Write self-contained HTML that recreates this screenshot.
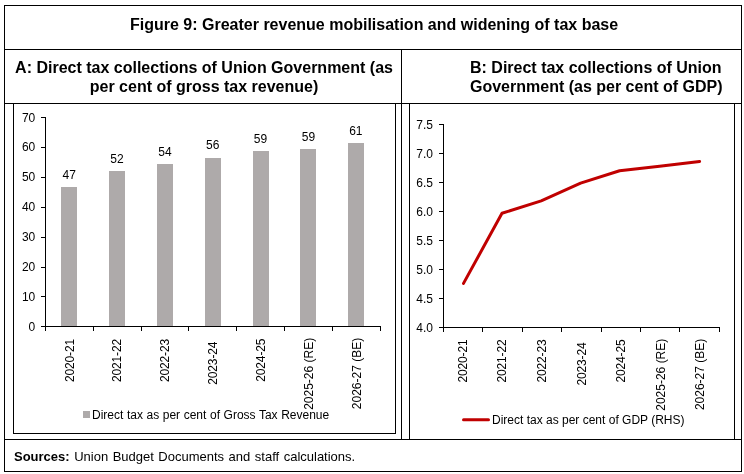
<!DOCTYPE html>
<html><head><meta charset="utf-8"><style>
html,body{margin:0;padding:0;background:#fff;width:744px;height:474px;overflow:hidden}
svg text{font-family:'Liberation Sans',sans-serif;fill:#000}
</style></head><body>
<svg width="744" height="474" viewBox="0 0 744 474" style="display:block;will-change:transform"><rect x="4" y="5" width="738" height="1" fill="#000"/>
<rect x="4" y="471" width="738" height="1" fill="#000"/>
<rect x="4" y="5" width="1" height="467" fill="#000"/>
<rect x="741" y="5" width="1" height="467" fill="#000"/>
<rect x="4" y="49" width="738" height="1" fill="#000"/>
<rect x="4" y="103" width="738" height="1" fill="#000"/>
<rect x="4" y="439" width="738" height="1" fill="#000"/>
<rect x="401" y="49" width="1" height="391" fill="#000"/>
<rect x="13" y="103" width="1" height="331" fill="#000"/>
<rect x="395" y="103" width="1" height="331" fill="#000"/>
<rect x="13" y="433" width="383" height="1" fill="#000"/>
<rect x="409" y="103" width="1" height="337" fill="#000"/>
<rect x="734" y="103" width="1" height="337" fill="#000"/>
<text x="130" y="30" font-size="16" font-weight="bold" text-anchor="start" >Figure 9: Greater revenue mobilisation and widening of tax base</text>
<text x="204" y="73" font-size="16" font-weight="bold" text-anchor="middle" >A: Direct tax collections of Union Government (as</text>
<text x="204" y="92" font-size="16" font-weight="bold" text-anchor="middle" >per cent of gross tax revenue)</text>
<text x="470" y="73" font-size="16" font-weight="bold" text-anchor="start" >B: Direct tax collections of Union</text>
<text x="470" y="92" font-size="16" font-weight="bold" text-anchor="start" >Government (as per cent of GDP)</text>
<text x="14" y="461" font-size="13" word-spacing="0.9"><tspan font-weight="bold">Sources:</tspan> Union Budget Documents and staff calculations.</text>
<rect x="45" y="117" width="1" height="210" fill="#000"/>
<rect x="41" y="117" width="4" height="1" fill="#000"/>
<text x="35.3" y="122" font-size="12" font-weight="normal" text-anchor="end" >70</text>
<rect x="41" y="147" width="4" height="1" fill="#000"/>
<text x="35.3" y="151" font-size="12" font-weight="normal" text-anchor="end" >60</text>
<rect x="41" y="177" width="4" height="1" fill="#000"/>
<text x="35.3" y="181" font-size="12" font-weight="normal" text-anchor="end" >50</text>
<rect x="41" y="207" width="4" height="1" fill="#000"/>
<text x="35.3" y="211" font-size="12" font-weight="normal" text-anchor="end" >40</text>
<rect x="41" y="237" width="4" height="1" fill="#000"/>
<text x="35.3" y="241" font-size="12" font-weight="normal" text-anchor="end" >30</text>
<rect x="41" y="267" width="4" height="1" fill="#000"/>
<text x="35.3" y="271" font-size="12" font-weight="normal" text-anchor="end" >20</text>
<rect x="41" y="296" width="4" height="1" fill="#000"/>
<text x="35.3" y="301" font-size="12" font-weight="normal" text-anchor="end" >10</text>
<rect x="41" y="326" width="4" height="1" fill="#000"/>
<text x="35.3" y="331" font-size="12" font-weight="normal" text-anchor="end" >0</text>
<rect x="45" y="326" width="336" height="1" fill="#000"/>
<rect x="45" y="326" width="1" height="5" fill="#000"/>
<rect x="93" y="326" width="1" height="5" fill="#000"/>
<rect x="141" y="326" width="1" height="5" fill="#000"/>
<rect x="188" y="326" width="1" height="5" fill="#000"/>
<rect x="236" y="326" width="1" height="5" fill="#000"/>
<rect x="284" y="326" width="1" height="5" fill="#000"/>
<rect x="332" y="326" width="1" height="5" fill="#000"/>
<rect x="380" y="326" width="1" height="5" fill="#000"/>
<rect x="61" y="187" width="16" height="139" fill="#AEAAAA"/>
<text x="69.25" y="179" font-size="12" font-weight="normal" text-anchor="middle" >47</text>
<text x="0" y="0" font-size="12" text-anchor="end" letter-spacing="-0.15" transform="translate(73.5,339) rotate(-90)">2020-21</text>
<rect x="109" y="171" width="16" height="155" fill="#AEAAAA"/>
<text x="117.0" y="163" font-size="12" font-weight="normal" text-anchor="middle" >52</text>
<text x="0" y="0" font-size="12" text-anchor="end" letter-spacing="-0.15" transform="translate(121.3,339) rotate(-90)">2021-22</text>
<rect x="157" y="164" width="16" height="162" fill="#AEAAAA"/>
<text x="165.0" y="156" font-size="12" font-weight="normal" text-anchor="middle" >54</text>
<text x="0" y="0" font-size="12" text-anchor="end" letter-spacing="-0.15" transform="translate(169.0,339) rotate(-90)">2022-23</text>
<rect x="205" y="158" width="16" height="168" fill="#AEAAAA"/>
<text x="212.75" y="149" font-size="12" font-weight="normal" text-anchor="middle" >56</text>
<text x="0" y="0" font-size="12" text-anchor="end" letter-spacing="-0.15" transform="translate(216.7,341.7) rotate(-90)">2023-24</text>
<rect x="253" y="151" width="16" height="175" fill="#AEAAAA"/>
<text x="260.5" y="143" font-size="12" font-weight="normal" text-anchor="middle" >59</text>
<text x="0" y="0" font-size="12" text-anchor="end" letter-spacing="-0.15" transform="translate(264.6,338.7) rotate(-90)">2024-25</text>
<rect x="300" y="149" width="16" height="177" fill="#AEAAAA"/>
<text x="308.5" y="141" font-size="12" font-weight="normal" text-anchor="middle" >59</text>
<text x="0" y="0" font-size="12" text-anchor="end" letter-spacing="0" transform="translate(312.7,337.8) rotate(-90)">2025-26 (RE)</text>
<rect x="348" y="143" width="16" height="183" fill="#AEAAAA"/>
<text x="355.85" y="135" font-size="12" font-weight="normal" text-anchor="middle" >61</text>
<text x="0" y="0" font-size="12" text-anchor="end" letter-spacing="0" transform="translate(360.7,337.8) rotate(-90)">2026-27 (BE)</text>
<rect x="83" y="411" width="7" height="7" fill="#AEAAAA"/>
<text x="92" y="419" font-size="12" font-weight="normal" text-anchor="start" word-spacing="0.25">Direct tax as per cent of Gross Tax Revenue</text>
<rect x="443" y="124" width="1" height="204" fill="#000"/>
<rect x="439" y="124" width="4" height="1" fill="#000"/>
<text x="433" y="129" font-size="12" font-weight="normal" text-anchor="end" >7.5</text>
<rect x="439" y="153" width="4" height="1" fill="#000"/>
<text x="433" y="158" font-size="12" font-weight="normal" text-anchor="end" >7.0</text>
<rect x="439" y="182" width="4" height="1" fill="#000"/>
<text x="433" y="187" font-size="12" font-weight="normal" text-anchor="end" >6.5</text>
<rect x="439" y="211" width="4" height="1" fill="#000"/>
<text x="433" y="216" font-size="12" font-weight="normal" text-anchor="end" >6.0</text>
<rect x="439" y="240" width="4" height="1" fill="#000"/>
<text x="433" y="245" font-size="12" font-weight="normal" text-anchor="end" >5.5</text>
<rect x="439" y="269" width="4" height="1" fill="#000"/>
<text x="433" y="274" font-size="12" font-weight="normal" text-anchor="end" >5.0</text>
<rect x="439" y="298" width="4" height="1" fill="#000"/>
<text x="433" y="303" font-size="12" font-weight="normal" text-anchor="end" >4.5</text>
<rect x="439" y="327" width="4" height="1" fill="#000"/>
<text x="433" y="332" font-size="12" font-weight="normal" text-anchor="end" >4.0</text>
<rect x="443" y="327" width="277" height="1" fill="#000"/>
<rect x="443" y="327" width="1" height="5" fill="#000"/>
<rect x="482" y="327" width="1" height="5" fill="#000"/>
<rect x="522" y="327" width="1" height="5" fill="#000"/>
<rect x="561" y="327" width="1" height="5" fill="#000"/>
<rect x="601" y="327" width="1" height="5" fill="#000"/>
<rect x="640" y="327" width="1" height="5" fill="#000"/>
<rect x="679" y="327" width="1" height="5" fill="#000"/>
<rect x="719" y="327" width="1" height="5" fill="#000"/>
<polyline points="463.50,283.40 502.00,213.30 541.20,200.90 580.60,183.10 619.60,170.80 659.60,166.30 699.60,161.40" fill="none" stroke="#C00000" stroke-width="3" stroke-linejoin="round" stroke-linecap="round"/>
<text x="0" y="0" font-size="12" text-anchor="end" letter-spacing="-0.15" transform="translate(466.8,339.5) rotate(-90)">2020-21</text>
<text x="0" y="0" font-size="12" text-anchor="end" letter-spacing="-0.15" transform="translate(506.35,339.5) rotate(-90)">2021-22</text>
<text x="0" y="0" font-size="12" text-anchor="end" letter-spacing="-0.15" transform="translate(546.2,339.5) rotate(-90)">2022-23</text>
<text x="0" y="0" font-size="12" text-anchor="end" letter-spacing="-0.15" transform="translate(586.05,342.5) rotate(-90)">2023-24</text>
<text x="0" y="0" font-size="12" text-anchor="end" letter-spacing="-0.15" transform="translate(625.1,339.5) rotate(-90)">2024-25</text>
<text x="0" y="0" font-size="12" text-anchor="end" letter-spacing="0" transform="translate(664.85,338.7) rotate(-90)">2025-26 (RE)</text>
<text x="0" y="0" font-size="12" text-anchor="end" letter-spacing="0" transform="translate(704.2,338.7) rotate(-90)">2026-27 (BE)</text>
<line x1="463.5" y1="419.8" x2="488.5" y2="419.8" stroke="#C00000" stroke-width="3" stroke-linecap="round"/>
<text x="492" y="424" font-size="12" font-weight="normal" text-anchor="start" >Direct tax as per cent of GDP (RHS)</text></svg>
</body></html>
